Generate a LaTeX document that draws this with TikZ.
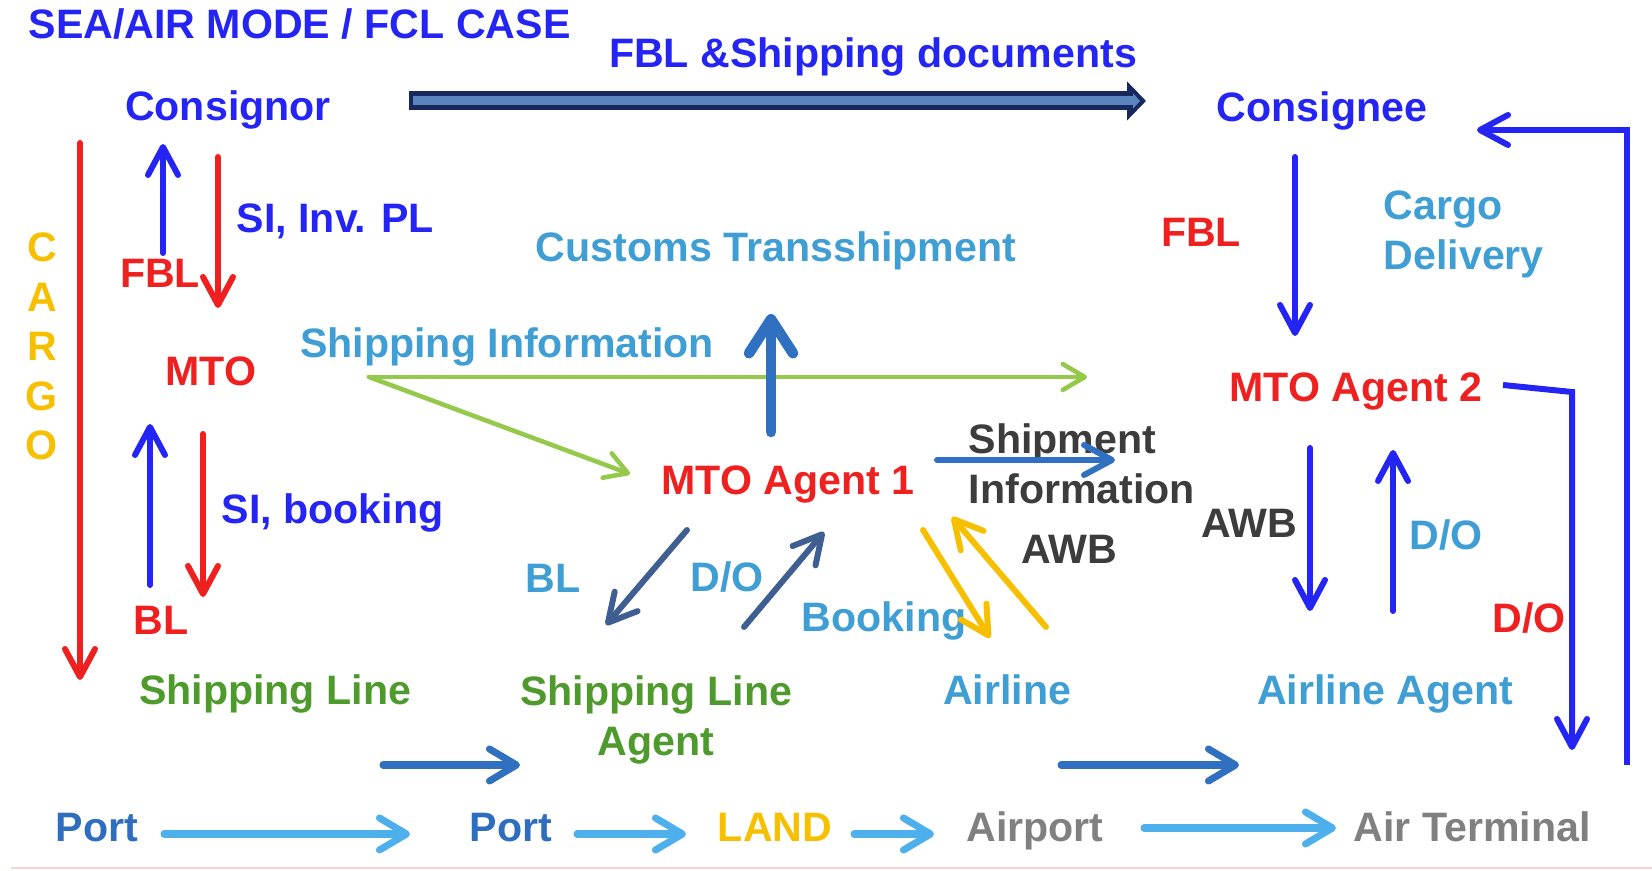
\documentclass[tikz,border=0pt]{standalone}
\usepackage{fontspec}
\setmainfont{Liberation Sans}
\usetikzlibrary{arrows.meta}
\definecolor{sblue}{HTML}{2424F5}
\definecolor{sred}{HTML}{EE2020}
\definecolor{lblue}{HTML}{3F9ED4}
\definecolor{sgreen}{HTML}{4E9A2D}
\definecolor{syellow}{HTML}{F6C000}
\definecolor{dgray}{HTML}{3C3C3C}
\definecolor{mgray}{HTML}{808080}
\definecolor{portblue}{HTML}{2F6EBF}
\definecolor{limearr}{HTML}{94C94C}
\definecolor{midblue}{HTML}{3070C0}
\definecolor{diagblue}{HTML}{3F5F92}
\definecolor{lowblue}{HTML}{4DB0EC}
\definecolor{docnavy}{HTML}{17285E}
\definecolor{docfill}{HTML}{5B83BE}
\definecolor{pinkrule}{HTML}{F4D5CF}

\begin{document}
\begin{tikzpicture}[
  x=0.01cm, y=-0.01cm,
  txt/.style={
    font=\fontsize{11.7}{14.2}\selectfont\bfseries,
    inner sep=0pt,
    anchor=base
  },
  barb/.style={line width=1.7pt, line cap=round,
    -{Straight Barb[round,length=0.28cm,width=0.3cm]}},
  thinbarb/.style={line width=1.3pt, line cap=round,
    -{Straight Barb[round,length=0.22cm,width=0.26cm]}},
  fatbarb/.style={line width=3pt, line cap=round,
    -{Straight Barb[round,length=0.34cm,width=0.44cm]}},
  flatbarb/.style={line width=2pt, line cap=round,
    -{Straight Barb[round,length=0.27cm,width=0.32cm]}}
]
\useasboundingbox (0,0) rectangle (1652,871);

% --- top row ---
\node[txt, anchor=base west, text=sblue] (title) at (28,39) {SEA/AIR MODE / FCL CASE};
\node[txt, text=sblue] (docs) at (873,68) {FBL \&Shipping documents};
\node[txt, text=sblue] (consignor) at (228,121) {Consignor};
\node[txt, text=sblue] (consignee) at (1322,122) {Consignee};

\coordinate (docS) at (409,101);
\coordinate (docE) at (1146,101);
\coordinate (docS2) at (413,101);
\coordinate (docE2) at (1140,101);
\draw[docnavy, line width=0.19cm, -{Triangle[length=0.19cm,width=0.38cm]}] (docS) -- (docE);
\draw[docfill, line width=0.09cm, -{Triangle[length=0.07cm,width=0.15cm]}] (docS2) -- (docE2);

% --- sea side ---
\foreach \l [count=\i] in {C,A,R,G,O}
  \node[txt, text=syellow] (cargo\i) at (42,{262+(\i-1)*49.5}) {\l};

\node[txt, anchor=base west, text=sblue] (siinv) at (236,233) {SI, Inv. PL};
\node[txt, text=sred] (fblA) at (160,288) {FBL};
\node[txt, text=sred] (mto) at (211,386) {MTO};
\node[txt, anchor=base west, text=sblue] (sibook) at (221,524) {SI, booking};
\node[txt, text=sred] (blA) at (161,635) {BL};
\node[txt, text=sgreen] (shipline) at (275,705) {Shipping Line};

\coordinate (cargoS) at (80,143);
\coordinate (cargoE) at (80,680);
\coordinate (fblUpS) at (163,253);
\coordinate (fblUpE) at (163,144);
\coordinate (siDnS) at (218,157);
\coordinate (siDnE) at (218,308);
\coordinate (blUpS) at (150,585);
\coordinate (blUpE) at (150,424);
\coordinate (bkDnS) at (203,434);
\coordinate (bkDnE) at (203,597);
\draw[barb, sred] (cargoS) -- (cargoE);
\draw[barb, sblue] (fblUpS) -- (fblUpE);
\draw[barb, sred] (siDnS) -- (siDnE);
\draw[barb, sblue] (blUpS) -- (blUpE);
\draw[barb, sred] (bkDnS) -- (bkDnE);

% --- MTO agent 1 ---
\node[txt, text=lblue] (customs) at (776,262) {Customs Transshipment};
\node[txt, text=lblue] (shipinfo) at (507,358) {Shipping Information};
\node[txt, text=sred] (agentA) at (788,495) {MTO Agent 1};
\node[txt, anchor=west, align=left, text=dgray] (shipment) at (968,464) {Shipment\\Information};
\node[txt, text=lblue] (blB) at (553,593) {BL};
\node[txt, text=lblue] (doA) at (727,592) {D/O};
\node[txt, text=lblue] (booking) at (884,632) {Booking};
\node[txt, text=dgray] (awbA) at (1069,564) {AWB};
\node[txt, anchor=center, align=center, text=sgreen] (slagent) at (656,720) {Shipping Line\\Agent};
\node[txt, text=lblue] (airline) at (1007,705) {Airline};

\coordinate (infoS) at (369,377);
\coordinate (infoE) at (1087,377);
\coordinate (infoD) at (630,474);
\coordinate (custS) at (771,432);
\coordinate (custE) at (771,314);
\coordinate (shipS) at (937,460);
\coordinate (shipE) at (1115,460);
\coordinate (blS) at (687,530);
\coordinate (blE) at (606,625);
\coordinate (doS) at (744,627);
\coordinate (doE) at (824,532);
\coordinate (bkS) at (923,530);
\coordinate (bkE) at (990,638);
\coordinate (awbS) at (1046,627);
\coordinate (awbE) at (952,517);
\draw[thinbarb, limearr] (infoS) -- (infoE);
\draw[thinbarb, limearr] (infoS) -- (infoD);
\draw[fatbarb, midblue] (custS) -- (custE);
\draw[barb, midblue] (shipS) -- (shipE);
\draw[barb, diagblue] (blS) -- (blE);
\draw[barb, diagblue] (doS) -- (doE);
\draw[barb, syellow] (bkS) -- (bkE);
\draw[barb, syellow] (awbS) -- (awbE);

% --- air side ---
\node[txt, text=sred] (fblB) at (1201,247) {FBL};
\node[txt, anchor=west, align=left, text=lblue] (cargodel) at (1383,234) {Cargo\\Delivery};
\node[txt, text=sred] (agentB) at (1356,402) {MTO Agent 2};
\node[txt, text=dgray] (awbB) at (1249,538) {AWB};
\node[txt, text=lblue] (doB) at (1446,550) {D/O};
\node[txt, text=sred] (doC) at (1529,633) {D/O};
\node[txt, text=lblue] (airagent) at (1385,705) {Airline Agent};

\coordinate (fblDnS) at (1295,157);
\coordinate (fblDnE) at (1295,336);
\coordinate (awbDnS) at (1310,448);
\coordinate (awbDnE) at (1310,611);
\coordinate (doUpS) at (1393,611);
\coordinate (doUpE) at (1393,450);
\coordinate (bendS) at (1503,385);
\coordinate (bendC) at (1572,392);
\coordinate (bendE) at (1572,750);
\coordinate (backS) at (1627,765);
\coordinate (backC) at (1627,130);
\coordinate (backE) at (1477,130);
\draw[barb, sblue] (fblDnS) -- (fblDnE);
\draw[barb, sblue] (awbDnS) -- (awbDnE);
\draw[barb, sblue] (doUpS) -- (doUpE);
\draw[barb, sblue, line cap=butt] (bendS) -- (bendC) -- (bendE);
\draw[barb, sblue, line cap=butt] (backS) -- (backC) -- (backE);

% --- transport row ---
\foreach \n/\t/\c/\x in {port1/Port/portblue/97, port2/Port/portblue/511,
    land/LAND/syellow/775, airport/Airport/mgray/1035, airterm/Air Terminal/mgray/1472}
  \node[txt, text=\c] (\n) at (\x,842) {\t};

\coordinate (seaS) at (383,765);
\coordinate (seaE) at (520,765);
\coordinate (airS) at (1061,765);
\coordinate (airE) at (1239,765);
\draw[flatbarb, midblue] (seaS) -- (seaE);
\draw[flatbarb, midblue] (airS) -- (airE);

\coordinate (p1S) at (164,834);
\coordinate (p1E) at (410,834);
\coordinate (p2S) at (577,834);
\coordinate (p2E) at (686,834);
\coordinate (p3S) at (854,834);
\coordinate (p3E) at (934,834);
\coordinate (p4S) at (1144,828);
\coordinate (p4E) at (1336,828);
\foreach \a/\b in {p1S/p1E, p2S/p2E, p3S/p3E, p4S/p4E}
  \draw[flatbarb, lowblue] (\a) -- (\b);

\coordinate (ruleS) at (11,868);
\coordinate (ruleE) at (1652,868);
\draw[pinkrule, line width=0.6pt] (ruleS) -- (ruleE);

\end{tikzpicture}
\end{document}
